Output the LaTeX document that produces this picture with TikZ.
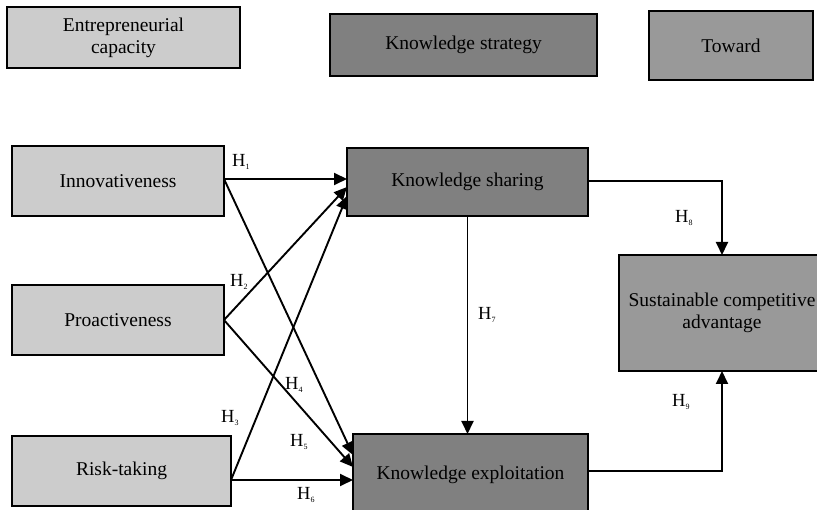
\documentclass[tikz,border=0pt]{standalone}
\usepackage{fontspec}
\setmainfont{Liberation Serif}
\usetikzlibrary{arrows.meta}
\definecolor{lightg}{HTML}{CCCCCC}
\definecolor{darkg}{HTML}{808080}
\definecolor{midg}{HTML}{999999}
\newcommand{\hyp}[1]{H\raisebox{-2.5pt}{\fontsize{8}{8}\selectfont #1}}
\begin{document}
\begin{tikzpicture}[x=1pt,y=-1pt,
  box/.style={draw=black,line width=2.5pt,rectangle,inner sep=0pt,outer sep=0pt,
    align=center,font=\fontsize{19.5}{22}\selectfont,anchor=north west},
  lightbox/.style={box,fill=lightg},
  darkbox/.style={box,fill=darkg},
  midbox/.style={box,fill=midg},
  arr/.style={line width=1.9pt,-{Triangle[length=13pt,width=12pt]}},
  hlab/.style={font=\fontsize{18.5}{18.5}\selectfont,inner sep=0pt,anchor=base west}]
\useasboundingbox (0,0) rectangle (817,510);
% legend boxes
\node[lightbox,minimum width=233pt,minimum height=61pt] (ec) at (7,7) {Entrepreneurial\\capacity};
\node[darkbox,minimum width=267pt,minimum height=62pt] (kst) at (330,14) {Knowledge strategy};
\node[midbox,minimum width=164pt,minimum height=69pt] (tow) at (649,11) {Toward};
% left boxes
\node[lightbox,minimum width=212pt,minimum height=70pt] (inn) at (12,146) {Innovativeness};
\node[lightbox,minimum width=212pt,minimum height=70pt] (pro) at (12,285) {Proactiveness};
\node[lightbox,minimum width=219pt,minimum height=70pt] (risk) at (12,436) {Risk-taking};
% knowledge boxes
\node[darkbox,minimum width=241pt,minimum height=68pt] (ks) at (347,148) {Knowledge sharing};
\node[darkbox,minimum width=235pt,minimum height=82pt] (ke) at (353,434) {\raisebox{5pt}{Knowledge exploitation}};
\node[midbox,minimum width=206pt,minimum height=116pt] (sca) at (619,255) {Sustainable competitive\\advantage};
% arrows
\draw[arr] ([yshift=2pt]inn.east) -- ([yshift=3pt]ks.west);
\draw[arr] ([yshift=2pt]inn.east) -- ([yshift=20pt]ke.west);
\draw[arr] (pro.east) -- ([yshift=-5pt]ks.west);
\draw[arr] (pro.east) -- ([yshift=8pt]ke.west);
\draw[arr] ([yshift=-9pt]risk.east) -- ([yshift=-14pt]ks.west);
\draw[arr] ([yshift=-9pt]risk.east) -- ([yshift=-5pt]ke.west);
\draw[arr] (ks.south) -- (ks.south |- ke.north);
\draw[arr] ([yshift=1pt]ks.east) -| (sca.north);
\draw[arr] ([yshift=4pt]ke.east) -| (sca.south);
% labels
\node[hlab] (h1) at (232,167) {\hyp{1}};
\node[hlab] (h2) at (230,287) {\hyp{2}};
\node[hlab] (h3) at (221,423) {\hyp{3}};
\node[hlab] (h4) at (285,390) {\hyp{4}};
\node[hlab] (h5) at (290,447) {\hyp{5}};
\node[hlab] (h6) at (297,500) {\hyp{6}};
\node[hlab] (h7) at (478,320) {\hyp{7}};
\node[hlab] (h8) at (675,223) {\hyp{8}};
\node[hlab] (h9) at (672,407) {\hyp{9}};
\end{tikzpicture}
\end{document}
